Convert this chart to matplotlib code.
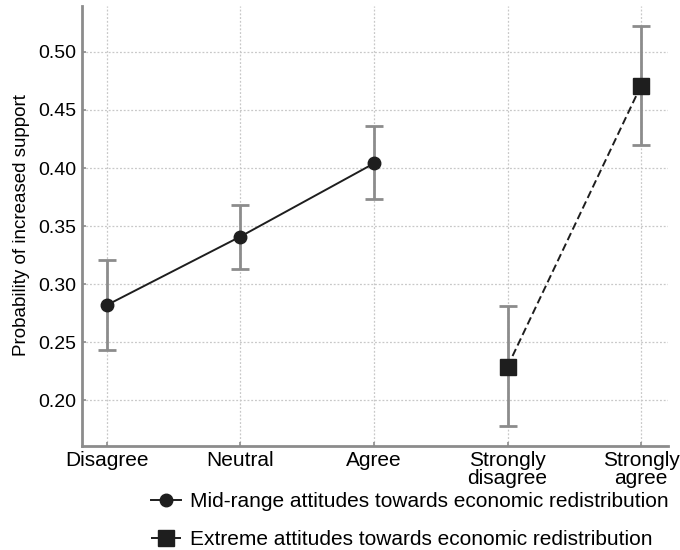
import matplotlib
matplotlib.use("Agg")

import matplotlib.pyplot as plt
import numpy as np

plt.rcParams["font.family"] = ["Liberation Sans", "DejaVu Sans"]

categories = ["Disagree", "Neutral", "Agree", "Strongly\ndisagree", "Strongly\nagree"]

mid_pos = [0, 1, 2]
mid_prob = [0.282, 0.341, 0.404]
mid_low = [0.243, 0.313, 0.373]
mid_high = [0.321, 0.368, 0.436]

ext_pos = [3, 4]
ext_prob = [0.229, 0.471]
ext_low = [0.178, 0.420]
ext_high = [0.281, 0.522]

gris = "#8c8c8c"
negro = "#1e1e1e"

fig = plt.figure(figsize=(6.8, 5.5), dpi=100)
ax = fig.add_axes([0.12, 0.19, 0.862, 0.80])

# barras de error
ax.errorbar(mid_pos, mid_prob,
            yerr=[np.array(mid_prob) - np.array(mid_low), np.array(mid_high) - np.array(mid_prob)],
            fmt="none", ecolor=gris, elinewidth=2, capsize=6.5, capthick=2, zorder=2)
ax.errorbar(ext_pos, ext_prob,
            yerr=[np.array(ext_prob) - np.array(ext_low), np.array(ext_high) - np.array(ext_prob)],
            fmt="none", ecolor=gris, elinewidth=2, capsize=6.5, capthick=2, zorder=2)

l1, = ax.plot(mid_pos, mid_prob, color=negro, lw=1.4, marker="o", markersize=9, zorder=3,
              label="Mid-range attitudes towards economic redistribution")
l2, = ax.plot(ext_pos, ext_prob, color=negro, lw=1.4, ls=(0, (4, 2)), marker="s", markersize=11,
              zorder=3, label="Extreme attitudes towards economic redistribution")

ax.set_xlim(-0.19, 4.2)
ax.set_ylim(0.161, 0.540)
ax.set_xticks(range(len(categories)))
ax.set_xticklabels(categories, fontsize=15, linespacing=0.92)
ax.set_yticks([0.20, 0.25, 0.30, 0.35, 0.40, 0.45, 0.50])
ax.set_yticklabels([f"{v:.2f}" for v in ax.get_yticks()], fontsize=14)
ax.set_ylabel("Probability of increased support", fontsize=13.5, labelpad=6)

ax.grid(True, color="#c8c8c8", ls=(0, (1.5, 1.5)), lw=0.9)
ax.set_axisbelow(True)
for s in ["top", "right"]:
    ax.spines[s].set_visible(False)
for s in ["left", "bottom"]:
    ax.spines[s].set_color(gris)
    ax.spines[s].set_linewidth(2)
ax.tick_params(axis="both", color=gris, width=1.2, length=3, direction="in", pad=4)

fig.legend(handles=[l1, l2], loc="lower center", bbox_to_anchor=(0.603, -0.032),
           frameon=False, fontsize=15, handlelength=1.4, handletextpad=0.45,
           labelspacing=0.9)

plt.savefig("out.png", dpi=100)
plt.close()
